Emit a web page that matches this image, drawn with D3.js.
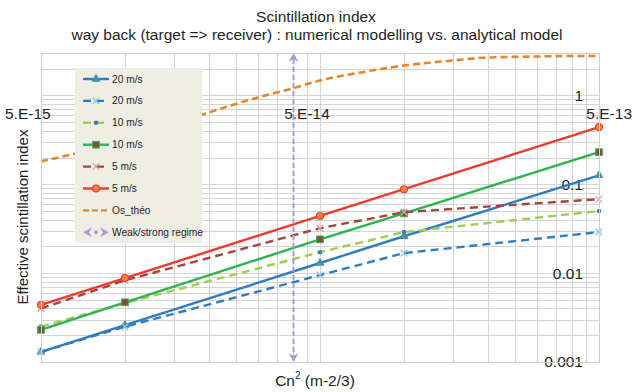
<!DOCTYPE html>
<html>
<head>
<meta charset="utf-8">
<script src="https://cdn.jsdelivr.net/npm/d3@7"></script>
<style>
  html, body { margin: 0; padding: 0; background: #fff; }
  svg { display: block; font-family: "Liberation Sans", Arial, sans-serif; }
</style>
</head>
<body>
<svg id="chart" width="633" height="392"></svg>
<script>
// Cn² values (m^-2/3) at which the scintillation index was computed
const cn2 = [5e-15, 1e-14, 5e-14, 1e-13, 5e-13];

// Analytical (solid) and numerical (dashed) scintillation index per wind speed
const ana20 = [0.0013, 0.0026, 0.013, 0.026, 0.126];
const num20 = [0.0013, 0.0025, 0.0095, 0.0168, 0.029];
const num10 = [0.0025, 0.0046, 0.0172, 0.029, 0.050];
const ana10 = [0.0023, 0.0047, 0.024, 0.047, 0.23];
const num5  = [0.0040, 0.0083, 0.032, 0.0485, 0.068];
const ana5  = [0.0044, 0.0088, 0.044, 0.088, 0.44];

// Theoretical curve
const osCn2 = [5e-15, 6e-15, 8e-15, 1e-14, 2e-14, 3e-14, 4e-14, 5e-14, 7e-14, 1e-13, 1.5e-13, 2e-13, 3e-13, 4e-13, 5e-13];
const osVal = [0.181, 0.206, 0.254, 0.304, 0.644, 0.95, 1.20, 1.47, 1.81, 2.17, 2.47, 2.67, 2.74, 2.78, 2.78];

// Weak/strong regime boundary
const regimeCn2 = 4e-14;
const regimeSpan = [0.001, 3];

const xTickLabels = ["5.E-15", "5.E-14", "5.E-13"];
const yTickValues = [1, 0.1, 0.01, 0.001];
const yTickLabels = ["1", "0.1", "0.01", "0.001"];

const svg = d3.select("#chart");
const pLeft = 41, pRight = 599, pTop = 53, pBottom = 362;
const ink = "#1e1e1e";

const x = d3.scaleLog().domain([5e-15, 5e-13]).range([pLeft, pRight]);
const y = d3.scaleLog().domain([0.001, 3]).range([pBottom, pTop]);

// Titles
svg.append("text").attr("x", 316).attr("y", 22).attr("text-anchor", "middle")
  .attr("font-size", 15.5).attr("fill", ink).text("Scintillation index");
svg.append("text").attr("x", 317).attr("y", 40).attr("text-anchor", "middle")
  .attr("font-size", 15.5).attr("fill", ink)
  .text("way back (target => receiver) : numerical modelling vs. analytical model");

// Grid
const grid = svg.append("g").attr("stroke", "#d4d4d4").attr("stroke-width", 1);
const xGrid = [];
[5e-15, 5e-14].forEach(b => { for (let k = 1; k <= 10; k++) xGrid.push(b * k); });
const yGrid = [];
[0.001, 0.01, 0.1].forEach(b => { for (let k = 1; k <= 10; k++) yGrid.push(b * k); });
yGrid.push(2, 3);
grid.selectAll(".gx").data(xGrid).join("line")
  .attr("x1", d => Math.round(x(d)) + 0.5).attr("x2", d => Math.round(x(d)) + 0.5)
  .attr("y1", pTop).attr("y2", pBottom);
grid.selectAll(".gy").data(yGrid).join("line")
  .attr("x1", pLeft).attr("x2", pRight)
  .attr("y1", d => Math.round(y(d)) + 0.5).attr("y2", d => Math.round(y(d)) + 0.5);

// Axis tick labels
const xLabelPos = [[5, "start"], [307, "middle"], [632, "end"]];
xTickLabels.forEach((t, i) => {
  svg.append("text").attr("x", xLabelPos[i][0]).attr("y", 119)
    .attr("text-anchor", xLabelPos[i][1]).attr("font-size", 15.5).attr("fill", ink).text(t);
});
yTickValues.forEach((v, i) => {
  svg.append("text").attr("x", 583).attr("y", y(v)).attr("dy", "0.35em")
    .attr("text-anchor", "end").attr("font-size", 15.5).attr("fill", ink).text(yTickLabels[i]);
});

// Axis titles
svg.append("text").attr("transform", "translate(28,217) rotate(-90)")
  .attr("text-anchor", "middle").attr("font-size", 15).attr("fill", ink)
  .text("Effective scintillation index");
const xt = svg.append("text").attr("x", 315).attr("y", 386).attr("text-anchor", "middle")
  .attr("font-size", 15.5).attr("fill", ink);
xt.append("tspan").text("Cn");
xt.append("tspan").attr("font-size", 10).attr("dy", -7).text("2");
xt.append("tspan").attr("dy", 7).text(" (m-2/3)");

// Series definitions
const series = [
  { name: "20 m/s", values: ana20, color: "#2f7cc0", dash: null, marker: "triangle", mfill: "#4f9a86" },
  { name: "20 m/s", values: num20, color: "#2f7cc0", dash: "8,5", marker: "cross", mfill: "#8fc0e6" },
  { name: "10 m/s", values: num10, color: "#9fcf4f", dash: "8,5", marker: "dot", mfill: "#3f7fae" },
  { name: "10 m/s", values: ana10, color: "#2db34e", dash: null, marker: "square", mfill: "#8a4a3a" },
  { name: "5 m/s",  values: num5,  color: "#a3443d", dash: "8,5", marker: "cross", mfill: "#e0a0a0" },
  { name: "5 m/s",  values: ana5,  color: "#ee3a2b", dash: null, marker: "circle", mfill: "#f6833d" }
];

const line = d3.line().x(d => x(d[0])).y(d => y(d[1]));

function drawMarker(g, type, cx, cy, color, fill) {
  if (type === "triangle") {
    g.append("path").attr("d", d3.symbol(d3.symbolTriangle, 26)()).attr("transform", `translate(${cx},${cy})`)
      .attr("fill", fill).attr("stroke", color).attr("stroke-width", 0.8);
  } else if (type === "square") {
    g.append("rect").attr("x", cx - 3.3).attr("y", cy - 3.3).attr("width", 6.6).attr("height", 6.6)
      .attr("fill", fill).attr("stroke", color).attr("stroke-width", 1.1);
  } else if (type === "circle") {
    g.append("circle").attr("cx", cx).attr("cy", cy).attr("r", 3.5)
      .attr("fill", fill).attr("stroke", color).attr("stroke-width", 1.1);
  } else if (type === "dot") {
    g.append("circle").attr("cx", cx).attr("cy", cy).attr("r", 2.3).attr("fill", fill);
  } else if (type === "cross") {
    g.append("path").attr("d", d3.symbol(d3.symbolX, 30)()).attr("transform", `translate(${cx},${cy})`)
      .attr("fill", "none").attr("stroke", fill).attr("stroke-width", 1.3);
  }
}

// Theoretical curve
svg.append("path").datum(osCn2.map((c, i) => [c, osVal[i]]))
  .attr("d", d3.line().x(d => x(d[0])).y(d => y(d[1])).curve(d3.curveMonotoneX))
  .attr("fill", "none").attr("stroke", "#e8842c").attr("stroke-width", 2.6).attr("stroke-dasharray", "7,4");

// Data series
const sg = svg.append("g");
series.forEach(s => {
  const pts = cn2.map((c, i) => [c, s.values[i]]);
  sg.append("path").datum(pts).attr("d", line).attr("fill", "none")
    .attr("stroke", s.color).attr("stroke-width", 2.4)
    .attr("stroke-dasharray", s.dash);
  pts.forEach(p => drawMarker(sg, s.marker, x(p[0]), y(p[1]), s.color, s.mfill));
});

// Weak/strong regime boundary with arrowheads at both ends
const purple = "#a89cd6";
const rx = Math.round(x(regimeCn2)) + 0.5;
svg.append("line").attr("x1", rx).attr("x2", rx)
  .attr("y1", y(regimeSpan[1]) + 6).attr("y2", y(regimeSpan[0]) - 6)
  .attr("stroke", purple).attr("stroke-width", 2).attr("stroke-dasharray", "5,3");
function arrowHead(cx, tipY, dir) {
  const h = 9, w = 5;
  svg.append("path")
    .attr("d", `M${cx},${tipY} L${cx + w},${tipY + dir * h} L${cx},${tipY + dir * (h - 3)} L${cx - w},${tipY + dir * h} Z`)
    .attr("fill", purple);
}
arrowHead(rx, y(regimeSpan[1]), 1);
arrowHead(rx, y(regimeSpan[0]), -1);

// Plot border
svg.append("rect").attr("x", pLeft + 0.5).attr("y", pTop + 0.5)
  .attr("width", pRight - pLeft).attr("height", pBottom - pTop)
  .attr("fill", "none").attr("stroke", "#cfcfcf");

// Legend
const lg = svg.append("g");
lg.append("rect").attr("x", 75).attr("y", 68).attr("width", 127).attr("height", 175).attr("fill", "#efeee5");
const legendItems = series.map(s => s).concat([
  { name: "Os_théo", color: "#e8842c", dash: "6,3", marker: null },
  { name: "Weak/strong regime", color: purple, marker: "regime" }
]);
legendItems.forEach((s, i) => {
  const ly = 79 + i * 21.9;
  if (s.marker === "regime") {
    lg.append("path").attr("d", `M83,${ly} L92,${ly - 5} L89,${ly} L92,${ly + 5} Z`).attr("fill", purple);
    lg.append("path").attr("d", `M109,${ly} L100,${ly - 5} L103,${ly} L100,${ly + 5} Z`).attr("fill", purple);
    lg.append("circle").attr("cx", 96).attr("cy", ly).attr("r", 2).attr("fill", purple);
  } else {
    lg.append("line").attr("x1", 83).attr("x2", 109).attr("y1", ly).attr("y2", ly)
      .attr("stroke", s.color).attr("stroke-width", 2.4).attr("stroke-dasharray", s.dash);
    if (s.marker) drawMarker(lg, s.marker, 96, ly, s.color, s.mfill);
  }
  lg.append("text").attr("x", 112).attr("y", ly).attr("dy", "0.35em")
    .attr("font-size", 10.2).attr("fill", ink).text(s.name);
});
</script>
</body>
</html>
